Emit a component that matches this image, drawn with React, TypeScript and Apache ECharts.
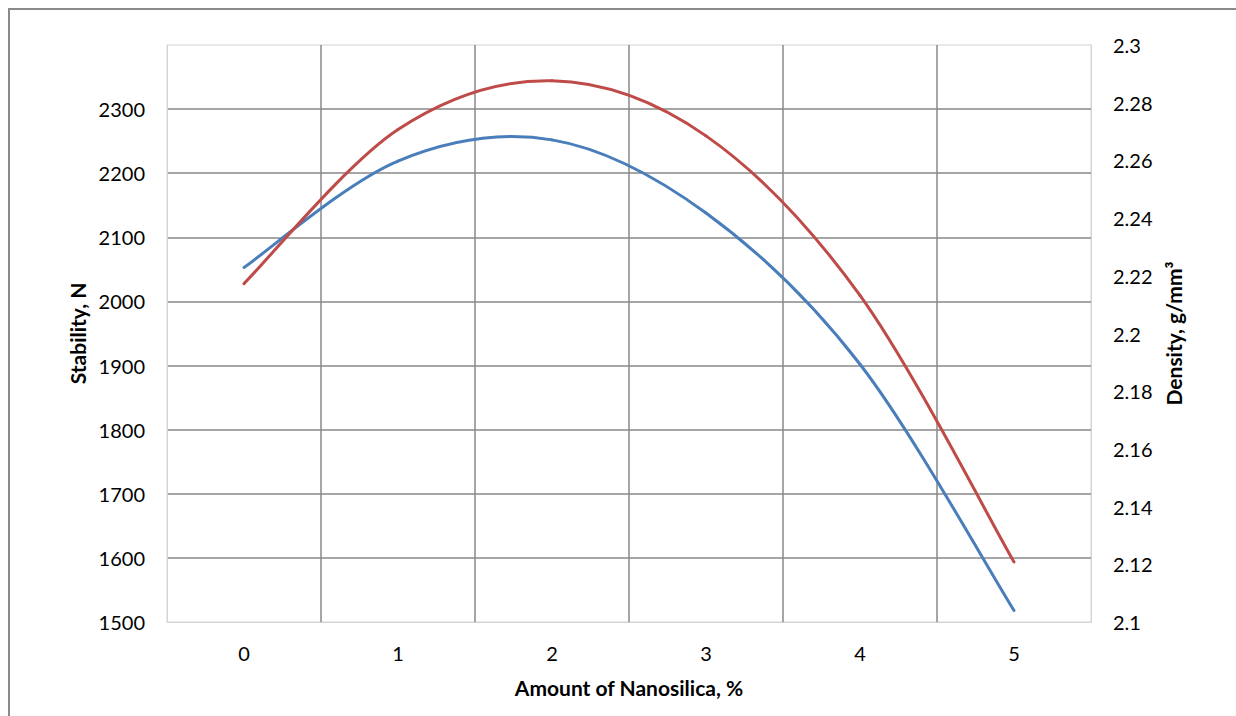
import React, { useEffect, useRef } from "react";
import * as echarts from "echarts";

const categories = ["0", "1", "2", "3", "4", "5"];
const stability = [2053, 2219, 2252, 2138, 1902, 1518];
const density = [2.2173, 2.2707, 2.2876, 2.2685, 2.2132, 2.1208];

const FONT = "Lato, 'Open Sans', sans-serif";

// Excel-like smoothed line: Catmull-Rom segments between the data points, placed through the axes.
function smoothSeries(name: string, values: number[], yAxisIndex: number, color: string) {
  return {
    name,
    type: "custom",
    yAxisIndex,
    clip: false,
    data: values.map((v, i) => [i, v]),
    encode: { x: 0, y: 1 },
    renderItem: (params: any, api: any) => {
      const i = params.dataIndex;
      if (i >= values.length - 1) return null;
      const pt = (k: number) => {
        const kk = Math.max(0, Math.min(values.length - 1, k));
        return api.coord([kk, values[kk]]);
      };
      const p0 = pt(i - 1);
      const p1 = pt(i);
      const p2 = pt(i + 1);
      const p3 = pt(i + 2);
      const t = 1 / 6;
      return {
        type: "bezierCurve",
        shape: {
          x1: p1[0],
          y1: p1[1],
          x2: p2[0],
          y2: p2[1],
          cpx1: p1[0] + (p2[0] - p0[0]) * t,
          cpy1: p1[1] + (p2[1] - p0[1]) * t,
          cpx2: p2[0] - (p3[0] - p1[0]) * t,
          cpy2: p2[1] - (p3[1] - p1[1]) * t,
        },
        style: { stroke: color, lineWidth: 3, fill: "none", lineCap: "round" },
      };
    },
  };
}

export default function App() {
  const ref = useRef<HTMLDivElement>(null);
  useEffect(() => {
    if (!ref.current) return;
    const chart = echarts.init(ref.current, null, { renderer: "svg" });
    const gridColor = "#898989";
    const frameColor = "#d4d4d4";
    const nameStyle = { fontFamily: FONT, fontWeight: "bold", fontSize: 21, color: "#000" };
    chart.setOption({
      animation: false,
      backgroundColor: "#ffffff",
      textStyle: { fontFamily: FONT },
      graphic: [
        {
          type: "rect",
          shape: { x: 9, y: 9, width: 1500, height: 1000 },
          style: { fill: "none", stroke: "#8a8a8a", lineWidth: 2 },
          silent: true,
        },
      ],
      grid: {
        left: 167,
        right: 145,
        top: 45,
        bottom: 94,
        show: true,
        borderColor: frameColor,
        borderWidth: 1,
        backgroundColor: "transparent",
      },
      xAxis: {
        type: "category",
        data: categories,
        boundaryGap: true,
        name: "Amount of Nanosilica, %",
        nameLocation: "middle",
        nameGap: 55,
        nameTextStyle: nameStyle,
        axisLine: { show: true, lineStyle: { color: frameColor, width: 1 } },
        axisTick: { show: false },
        axisLabel: { color: "#000", fontSize: 20, margin: 21, fontFamily: FONT },
        splitLine: {
          show: true,
          showMinLine: false,
          showMaxLine: false,
          lineStyle: { color: gridColor, width: 1.5 },
        },
      },
      yAxis: [
        {
          type: "value",
          min: 1500,
          max: 2400,
          interval: 100,
          position: "left",
          name: "Stability, N",
          nameLocation: "middle",
          nameGap: 76,
          nameTextStyle: nameStyle,
          axisLine: { show: true, lineStyle: { color: frameColor, width: 1 } },
          axisTick: { show: false },
          axisLabel: {
            color: "#000",
            fontSize: 20,
            margin: 22,
            showMaxLabel: false,
            fontFamily: FONT,
            formatter: (v: number) => String(v),
          },
          splitLine: {
            show: true,
            showMinLine: false,
            showMaxLine: false,
            lineStyle: { color: gridColor, width: 1.5 },
          },
        },
        {
          type: "value",
          min: 2.1,
          max: 2.3,
          interval: 0.02,
          position: "right",
          name: "Density, g/mm³",
          nameLocation: "middle",
          nameGap: 72,
          nameTextStyle: nameStyle,
          axisLine: { show: true, lineStyle: { color: frameColor, width: 1 } },
          axisTick: { show: false },
          axisLabel: {
            color: "#000",
            fontSize: 20,
            margin: 22,
            fontFamily: FONT,
            formatter: (v: number) => String(Math.round(v * 100) / 100),
          },
          splitLine: { show: false },
        },
      ],
      series: [
        smoothSeries("Stability", stability, 0, "#4A7EBB"),
        smoothSeries("Density", density, 1, "#BE4B48"),
      ],
    });
    return () => chart.dispose();
  }, []);
  return (
    <div
      ref={ref}
      style={{ position: "fixed", left: 0, top: 0, width: 1236, height: 716, background: "#fff" }}
    />
  );
}
